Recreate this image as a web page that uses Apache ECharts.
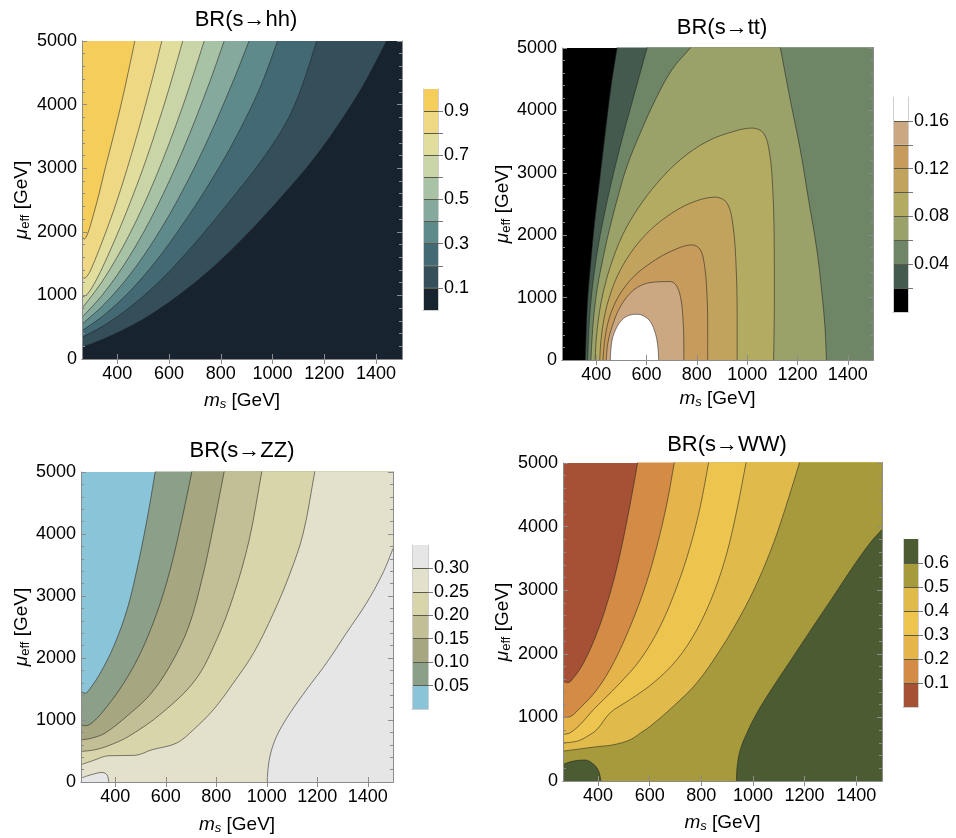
<!DOCTYPE html>
<html><head><meta charset="utf-8">
<script src="https://cdn.jsdelivr.net/npm/echarts@6/dist/echarts.min.js"></script>
<style>html,body{margin:0;padding:0;background:#fff}#c{width:956px;height:838px}</style>
</head><body><div id="c"></div>
<script>
// ---------- axis ranges / ticks ----------
const MS_MIN = 264, MS_MAX = 1500, MU_MIN = 0, MU_MAX = 5000;
const msTicks = [400, 600, 800, 1000, 1200, 1400];

// ---------- BR(s->hh): levels, band colours, contour lines [ms, mu] ----------
const hhLevels = [0.1, 0.2, 0.3, 0.4, 0.5, 0.6, 0.7, 0.8, 0.9];
const hhBarMax = 1.0;
const hhLabels = [0.1, 0.3, 0.5, 0.7, 0.9];
const hhColors = ['#17232f', '#344e5a', '#436a74', '#5e8a8b', '#85a99d', '#a8c2a5', '#c9d5a6', '#e1dd9c', '#efd884', '#f4cd5b'];
const hh01 = [[264,184],[350,320],[450,512],[550,752],[650,1040],[750,1370],[850,1750],[950,2170],[1050,2620],[1150,3100],[1250,3660],[1350,4300],[1440,5000]];
const hh02 = [[264,341],[350,530],[450,817],[550,1170],[650,1590],[750,2060],[850,2560],[950,3080],[1050,3700],[1110,4250],[1170,5000]];
const hh03 = [[264,446],[350,694],[450,1070],[550,1540],[650,2100],[750,2720],[850,3420],[950,4250],[1019,5000]];
const hh04 = [[264,551],[350,861],[450,1332],[550,1920],[650,2626],[750,3449],[850,4390],[909,5000]];
const hh05 = [[264,656],[350,1044],[450,1632],[550,2366],[650,3248],[750,4277],[813,5000]];
const hh06 = [[264,798],[350,1268],[450,1980],[550,2870],[650,3939],[736,5000]];
const hh07 = [[264,972],[285,1020],[320,1250],[350,1500],[400,1960],[450,2460],[500,3000],[550,3600],[600,4250],[653,5000]];
const hh08 = [[264,1290],[272,1271],[285,1310],[300,1420],[350,1930],[400,2500],[450,3150],[500,3860],[550,4630],[572,5000]];
const hh09 = [[264,1925],[272,1885],[285,1960],[300,2150],[330,2600],[350,2940],[390,3580],[420,4090],[450,4650],[468,5000]];

// ---------- BR(s->tt) ----------
const ttLevels = [0.02, 0.04, 0.06, 0.08, 0.10, 0.12, 0.14, 0.16];
const ttBarMax = 0.18;
const ttLabels = [0.04, 0.08, 0.12, 0.16];
const ttColors = ['#000000', '#445a4e', '#6f8666', '#9aa26a', '#b4ab63', '#c2a35d', '#c79b5b', '#cca882', '#ffffff'];
const tt02 = [[357,0],[360,428],[366,963],[377,1497],[392,2139],[414,2888],[436,3636],[459,4385],[483,5000]];
const tt04 = [[366,0],[370,428],[377,856],[390,1337],[410,1872],[436,2406],[469,2995],[509,3636],[549,4224],[582,4706],[602,5000]];
const tt06L = [[379,0],[383,321],[390,695],[403,1123],[423,1551],[449,2032],[483,2567],[522,3102],[575,3636],[635,4171],[701,4653],[774,5000]];
const tt06R = [[1132,5000],[1171,4171],[1211,3369],[1244,2567],[1277,1765],[1297,1070],[1309,535],[1315,0]];
const tt08 = [[396,0],[400,321],[410,695],[427,1069],[456,1497],[502,1979],[562,2406],[642,2834],[734,3209],[841,3503],[946,3663],[1019,3717],[1065,3636],[1089,3316],[1101,2781],[1107,2032],[1108,963],[1105,0]];
const tt10 = [[414,0],[419,321],[430,642],[449,963],[483,1337],[536,1711],[602,2032],[681,2299],[774,2513],[873,2610],[920,2513],[944,2139],[956,1497],[960,695],[960,0]];
const tt12 = [[427,0],[432,267],[443,535],[463,802],[496,1069],[549,1337],[615,1551],[695,1738],[781,1845],[814,1765],[831,1497],[840,1069],[843,535],[843,0]];
const tt14 = [[440,0],[446,267],[463,535],[496,856],[549,1123],[615,1241],[695,1257],[721,1176],[737,963],[745,642],[748,321],[748,0]];
const tt16 = [[456,0],[463,321],[483,535],[509,668],[536,722],[562,733],[589,706],[615,615],[635,428],[645,214],[648,0]];

// ---------- BR(s->ZZ) ----------
const zzLevels = [0.05, 0.10, 0.15, 0.20, 0.25, 0.30];
const zzBarMax = 0.35;
const zzLabels = [0.05, 0.10, 0.15, 0.20, 0.25, 0.30];
const zzColors = ['#8ac4d8', '#8c9f88', '#a6a681', '#c2bf96', '#d8d5ab', '#e3e1cc', '#e6e6e6'];
const zz05 = [[264,1459],[281,1432],[301,1513],[340,1754],[393,2183],[446,2774],[485,3418],[525,4222],[558,5000]];
const zz10 = [[264,923],[281,907],[314,976],[367,1218],[433,1593],[499,2076],[564,2720],[617,3418],[663,4222],[703,5000]];
const zz15 = [[264,681],[300,700],[359,788],[452,1083],[540,1420],[620,1900],[690,2500],[745,3300],[790,4150],[831,5000]];
const zz20 = [[264,493],[320,520],[372,584],[452,734],[584,1111],[717,1647],[802,2300],[868,3004],[930,3900],[980,5000]];
const zz25 = [[264,279],[314,349],[372,423],[478,430],[545,520],[643,628],[709,842],[788,1164],[867,1593],[947,2076],[1026,2720],[1092,3364],[1144,4007],[1190,5000]];
const zz30 = [[1002,0],[1006,252],[1019,520],[1045,789],[1092,1111],[1157,1487],[1236,1916],[1315,2400],[1394,2880],[1460,3370],[1500,3766]];
const zz30b = [[264,64],[290,100],[320,135],[347,155],[362,135],[370,90],[374,0]];

// ---------- BR(s->WW) ----------
const wwLevels = [0.1, 0.2, 0.3, 0.4, 0.5, 0.6];
const wwBarMax = 0.7;
const wwLabels = [0.1, 0.2, 0.3, 0.4, 0.5, 0.6];
const wwColors = ['#a65035', '#d38b45', '#e5b54b', '#edc54e', '#e0bb4b', '#a69a3c', '#4b5b32'];
const ww01 = [[264,1571],[282,1545],[305,1623],[344,1859],[396,2330],[447,2958],[486,3586],[525,4372],[553,5000]];
const ww02 = [[264,1000],[286,1005],[331,1152],[396,1440],[460,1859],[525,2435],[583,3063],[628,3691],[667,4372],[695,5000]];
const ww03 = [[264,733],[292,759],[331,890],[383,1126],[422,1283],[486,1545],[564,1911],[641,2435],[706,3063],[757,3691],[796,4319],[828,5000]];
const ww04 = [[264,600],[318,625],[357,700],[396,812],[447,1073],[525,1283],[615,1545],[706,1911],[783,2382],[848,2958],[899,3586],[938,4267],[973,5000]];
const ww05 = [[264,470],[331,505],[396,540],[460,570],[525,650],[566,760],[602,860],[693,1180],[783,1545],[874,2068],[951,2592],[1016,3115],[1080,3744],[1132,4372],[1180,5000]];
const ww06 = [[936,0],[939,236],[951,497],[977,759],[1016,1073],[1080,1492],[1157,1963],[1234,2435],[1312,2906],[1389,3377],[1454,3744],[1500,3953]];
const ww06b = [[264,262],[305,314],[350,330],[383,262],[402,157],[411,0]];

// ---------- layout ----------
const FONT = 'Liberation Sans, Arial, Helvetica, sans-serif';
const panels = [
  { title: 'BR(s\u2192hh)', tx: 241, ty: 4, grid: {left: 82, top: 41, width: 320, height: 318}, xGap: 31, yGap: 50,
    bar: {left: 423, top: 89, width: 15, height: 221},
    lines: [hh01,hh02,hh03,hh04,hh05,hh06,hh07,hh08,hh09], fills: hhColors.slice(1), bg: hhColors[0],
    origin: 'end', levels: hhLevels, colors: hhColors, barMax: hhBarMax, labels: hhLabels, dec: 1 },
  { title: 'BR(s\u2192tt)', tx: 717, ty: 12, grid: {left: 562, top: 48, width: 311, height: 312}, xGap: 28, yGap: 49,
    bar: {left: 893, top: 97, width: 15, height: 215},
    lines: [tt02,tt04,[tt06L,tt06R],tt08,tt10,tt12,tt14,tt16], fills: ttColors.slice(1), bg: ttColors[0],
    origin: 'start', levels: ttLevels, colors: ttColors, barMax: ttBarMax, labels: ttLabels, dec: 2 },
  { title: 'BR(s\u2192ZZ)', tx: 237, ty: 435, grid: {left: 81, top: 472, width: 312, height: 310}, xGap: 32, yGap: 49,
    bar: {left: 412, top: 545, width: 16, height: 164},
    lines: [zz05,zz10,zz15,zz20,zz25,zz30,zz30b], fills: [zzColors[1],zzColors[2],zzColors[3],zzColors[4],zzColors[5],zzColors[6],zzColors[6]], bg: zzColors[0],
    origin: 'start', levels: zzLevels, colors: zzColors, barMax: zzBarMax, labels: zzLabels, dec: 2 },
  { title: 'BR(s\u2192WW)', tx: 722, ty: 429, grid: {left: 563, top: 463, width: 319, height: 318}, xGap: 31, yGap: 50,
    bar: {left: 903, top: 539, width: 15, height: 168},
    lines: [ww01,ww02,ww03,ww04,ww05,ww06,ww06b], fills: [wwColors[1],wwColors[2],wwColors[3],wwColors[4],wwColors[5],wwColors[6],wwColors[6]], bg: wwColors[0],
    origin: 'start', levels: wwLevels, colors: wwColors, barMax: wwBarMax, labels: wwLabels, dec: 1 }
];

// continue a line that leaves through the top edge a little beyond it (clipped),
// so the smoothing corner of a downward fill falls outside the visible plot
function extendTop(pts) {
  const n = pts.length, L = pts[n - 1], P = pts[n - 2];
  if (L[1] < MU_MAX) return pts.slice();
  const t = 700 / Math.max(1, L[1] - P[1]);
  return pts.concat([[L[0] + (L[0] - P[0]) * t, L[1] + 700]]);
}
function lineData(ln, origin) {
  if (Array.isArray(ln[0][0])) { // two branches meeting at the top edge
    const left = extendTop(ln[0]);
    const right = extendTop(ln[1].slice().reverse()).reverse();
    return left.concat(right);
  }
  if (origin !== 'start') return ln.slice();
  const d = extendTop(ln);
  if (d.length > ln.length) d.push([MS_MAX + 400, d[d.length - 1][1]]);
  return d;
}

const option = { animation: false, backgroundColor: '#fff', title: [], grid: [], xAxis: [], yAxis: [], series: [] };
const frameColor = '#8c8c8c';
const tickLabel = { fontSize: 18, color: '#000', fontFamily: FONT };
const nameStyle = { fontSize: 19, color: '#000', fontFamily: FONT,
  rich: { it: { fontStyle: 'italic', fontSize: 19, fontFamily: FONT }, sub: { fontSize: 13, fontFamily: FONT, padding: [8, 0, 0, 0] },
          subi: { fontStyle: 'italic', fontSize: 13, fontFamily: FONT, padding: [8, 0, 0, 0] } } };

panels.forEach((p, i) => {
  option.title.push({ text: p.title, left: p.tx, top: p.ty, textAlign: 'center',
    textStyle: { fontSize: 22, fontWeight: 'normal', color: '#000', fontFamily: FONT } });
  const gi = option.grid.length;
  option.grid.push(Object.assign({ show: true, backgroundColor: p.bg, borderWidth: 0 }, p.grid));
  const xi = option.xAxis.length, yi = option.yAxis.length;
  option.xAxis.push({ type: 'value', gridIndex: gi, min: MS_MIN, max: MS_MAX, z: 10,
    axisLine: { show: true, lineStyle: { color: frameColor, width: 1 } },
    axisTick: { show: true, inside: true, length: 5, customValues: msTicks, lineStyle: { color: frameColor } },
    axisLabel: Object.assign({ customValues: msTicks, margin: 6, formatter: v => String(v) }, tickLabel),
    splitLine: { show: false },
    name: '{it|m}{subi|s} [GeV]', nameLocation: 'middle', nameGap: p.xGap, nameTextStyle: nameStyle });
  option.xAxis.push({ type: 'value', gridIndex: gi, min: MS_MIN, max: MS_MAX, position: 'top', z: 10,
    axisLine: { show: true, lineStyle: { color: frameColor, width: 1 } },
    axisTick: { show: true, inside: true, length: 5, customValues: msTicks, lineStyle: { color: frameColor } },
    axisLabel: { show: false }, splitLine: { show: false } });
  option.yAxis.push({ type: 'value', gridIndex: gi, min: MU_MIN, max: MU_MAX, interval: 1000, z: 10,
    axisLine: { show: true, lineStyle: { color: frameColor, width: 1 } },
    axisTick: { show: true, inside: true, length: 5, lineStyle: { color: frameColor } },
    minorTick: { show: true, splitNumber: 5, length: 3, lineStyle: { color: frameColor } },
    axisLabel: Object.assign({ margin: 5, formatter: v => String(v) }, tickLabel),
    splitLine: { show: false },
    name: '{it|\u03bc}{sub|eff} [GeV]', nameLocation: 'middle', nameGap: p.yGap, nameRotate: 90, nameTextStyle: nameStyle });
  option.yAxis.push({ type: 'value', gridIndex: gi, min: MU_MIN, max: MU_MAX, interval: 1000, position: 'right', z: 10,
    axisLine: { show: true, lineStyle: { color: frameColor, width: 1 } },
    axisTick: { show: true, inside: true, length: 5, lineStyle: { color: frameColor } },
    minorTick: { show: true, splitNumber: 5, length: 3, lineStyle: { color: frameColor } },
    axisLabel: { show: false }, splitLine: { show: false } });

  p.lines.forEach((ln, k) => {
    option.series.push({ type: 'line', xAxisIndex: xi, yAxisIndex: yi, data: lineData(ln, p.origin),
      symbol: 'none', showSymbol: false, smooth: 0.35, silent: true, clip: true,
      lineStyle: { color: 'rgba(35,35,35,0.7)', width: 0.8 },
      areaStyle: { color: p.fills[k], opacity: 1, origin: p.origin } });
  });

  // colour bar legend
  const bgi = option.grid.length;
  option.grid.push(Object.assign({ show: false }, p.bar));
  const bxi = option.xAxis.length, byi = option.yAxis.length;
  option.xAxis.push({ type: 'category', gridIndex: bgi, data: [''], z: 10,
    axisLine: { show: true, lineStyle: { color: '#cfcfcf' } }, axisTick: { show: false }, axisLabel: { show: false } });
  option.xAxis.push({ type: 'category', gridIndex: bgi, data: [''], position: 'top', z: 10,
    axisLine: { show: true, lineStyle: { color: '#cfcfcf' } }, axisTick: { show: false }, axisLabel: { show: false } });
  option.yAxis.push({ type: 'value', gridIndex: bgi, min: 0, max: p.barMax, position: 'right', z: 10,
    axisLine: { show: true, lineStyle: { color: '#cfcfcf' } },
    axisTick: { show: true, length: 5, customValues: p.levels, lineStyle: { color: '#777' } },
    axisLabel: Object.assign({ customValues: p.labels, margin: 6, formatter: v => v.toFixed(p.dec) }, tickLabel),
    splitLine: { show: false } });
  option.yAxis.push({ type: 'value', gridIndex: bgi, min: 0, max: p.barMax, position: 'left', z: 10,
    axisLine: { show: true, lineStyle: { color: '#cfcfcf' } }, axisTick: { show: false }, axisLabel: { show: false }, splitLine: { show: false } });
  const edges = [0].concat(p.levels, [p.barMax]);
  p.colors.forEach((c, k) => {
    const s = { type: 'bar', xAxisIndex: bxi, yAxisIndex: byi, stack: 'cb' + i, barWidth: '100%', silent: true,
      data: [+(edges[k + 1] - edges[k]).toFixed(4)], itemStyle: { color: c } };
    if (k === p.colors.length - 1) {
      s.markLine = { silent: true, symbol: ['none', 'none'], label: { show: false },
        lineStyle: { color: '#5a5a4a', width: 1, type: 'solid' }, data: p.levels.map(v => ({ yAxis: v })) };
    }
    option.series.push(s);
  });
});

const chart = echarts.init(document.getElementById('c'), null, { renderer: 'canvas' });
chart.setOption(option);
</script>
</body></html>
